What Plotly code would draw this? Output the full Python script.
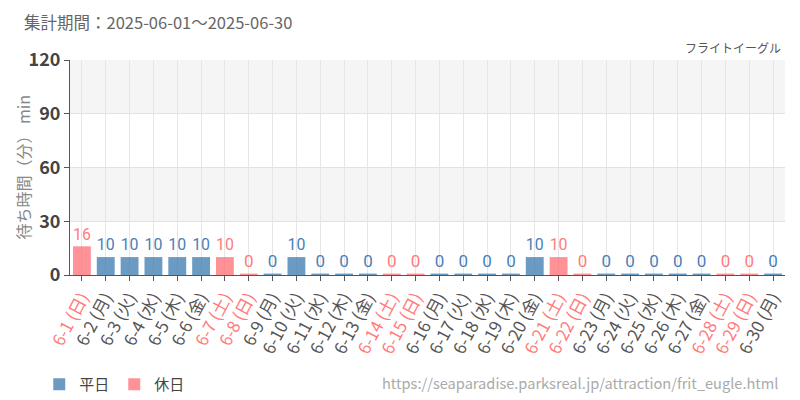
import plotly.graph_objects as go

dates = [f"6-{d}" for d in range(1, 31)]
weekdays = (["日", "月", "火", "水", "木", "金", "土"] * 5)[:30]
values = [16, 10, 10, 10, 10, 10, 10, 0, 0, 10, 0, 0, 0, 0, 0, 0, 0, 0, 0, 10, 10, 0, 0, 0, 0, 0, 0, 0, 0, 0]
holiday = [w in ("土", "日") for w in weekdays]
yticks = [0, 30, 60, 90, 120]

WD_BAR = "rgba(70,130,180,0.8)"
HD_BAR = "rgba(255,110,115,0.75)"
WD_TXT = "#4a80b8"
HD_TXT = "#ff7b7b"
FONT = "Noto Sans CJK JP, Noto Sans, sans-serif"
COND = "Roboto, sans-serif"

labels = [f"{d} ({w})" for d, w in zip(dates, weekdays)]
ticktext = [f'<span style="color:{HD_TXT if h else "#555555"}">{l}</span>' for l, h in zip(labels, holiday)]

min_vis = 0.8
fig = go.Figure()
for is_h, name, bc, tc in [(False, "平日", WD_BAR, WD_TXT), (True, "休日", HD_BAR, HD_TXT)]:
    xs = [l for l, h in zip(labels, holiday) if h == is_h]
    vs = [v for v, h in zip(values, holiday) if h == is_h]
    fig.add_trace(go.Bar(
        x=xs, y=[max(v, min_vis) for v in vs], name=name,
        marker=dict(color=bc, line=dict(width=0)),
        text=[str(v) for v in vs], textposition="outside",
        textfont=dict(color=tc, size=17, family=COND),
        cliponaxis=False, width=0.75, hoverinfo="skip",
    ))

shapes = []
for i in range(len(yticks) - 1):
    if i % 2 == 1:
        shapes.append(dict(type="rect", xref="paper", yref="y", x0=0, x1=1,
                           y0=yticks[i], y1=yticks[i + 1], fillcolor="#f5f5f5",
                           line=dict(width=0), layer="below"))

# page body has an 8px margin, so the figure is drawn 8px in from the window edge
fig.update_layout(
    width=792, height=392,
    margin=dict(l=62, r=15, t=52, b=125, autoexpand=False),
    plot_bgcolor="white", paper_bgcolor="white",
    barmode="overlay",
    font=dict(family=FONT, color="#555"),
    shapes=shapes,
    showlegend=True,
    legend=dict(orientation="h", x=-0.043, y=-0.433, xanchor="left", yanchor="top",
                font=dict(size=15, color="#444"), itemwidth=30,
                traceorder="normal"),
    annotations=[
        dict(text="集計期間：2025-06-01～2025-06-30", xref="paper", yref="paper",
             x=-0.067, y=1.177, xanchor="left", yanchor="middle", showarrow=False,
             font=dict(size=16.5, color="#666")),
        dict(text="フライトイーグル", xref="paper", yref="paper",
             x=0.997, y=1.056, xanchor="right", yanchor="middle", showarrow=False,
             font=dict(size=12, color="#555")),
        dict(text="https://seaparadise.parksreal.jp/attraction/frit_eugle.html",
             xref="paper", yref="paper", x=0.995, y=-0.50, xanchor="right",
             yanchor="middle", showarrow=False, font=dict(size=14.6, color="#aaaaaa")),
        dict(text="待ち時間（分） min", xref="paper", yref="paper",
             x=-0.067, y=0.5, xanchor="center", yanchor="middle", textangle=-90,
             showarrow=False, font=dict(size=16, color="#888")),
    ],
)
fig.update_xaxes(
    type="category", categoryorder="array", categoryarray=labels,
    tickvals=labels, ticktext=ticktext, tickangle=-62,
    tickfont=dict(size=17, family=FONT),
    showgrid=True, gridcolor="#e6e6e6", gridwidth=1,
    showline=True, linecolor="#555", linewidth=1,
    ticks="outside", ticklen=5, tickcolor="#555",
)
fig.update_yaxes(
    range=[0, 120], tickvals=yticks,
    tickfont=dict(size=18, color="#444", family=FONT, weight=600),
    showgrid=True, gridcolor="#e2e2e2", zeroline=False,
    showline=True, linecolor="#555", linewidth=1,
    ticks="outside", ticklen=5, tickcolor="#555",
)
fig.write_html("out.html")
